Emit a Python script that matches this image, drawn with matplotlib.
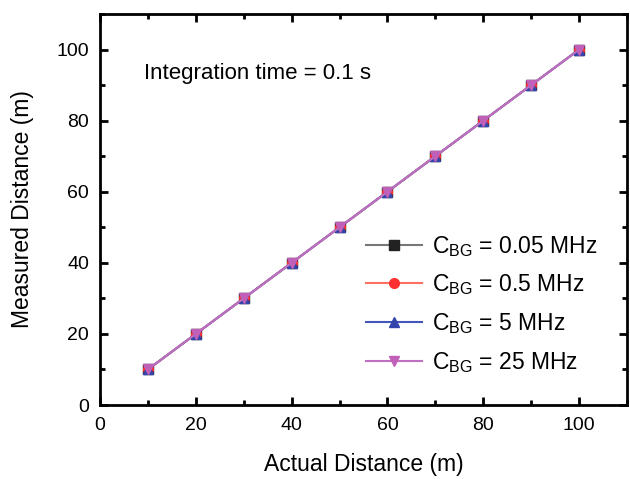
import matplotlib
matplotlib.use("Agg")
import matplotlib.pyplot as plt
from matplotlib.ticker import MultipleLocator

plt.rcParams['font.family'] = ['Liberation Sans', 'DejaVu Sans']
plt.rcParams['mathtext.fontset'] = 'custom'
plt.rcParams['mathtext.rm'] = 'Liberation Sans'

actual = [10, 20, 30, 40, 50, 60, 70, 80, 90, 100]
meas_005 = [10, 20, 30, 40, 50, 60, 70, 80, 90, 100]
meas_05 = [10, 20, 30, 40, 50, 60, 70, 80, 90, 100]
meas_5 = [10, 20, 30, 40, 50, 60, 70, 80, 90, 100]
meas_25 = [10, 20, 30, 40, 50, 60, 70, 80, 90, 100]
labels = [r'C$_\mathregular{BG}$ = 0.05 MHz', r'C$_\mathregular{BG}$ = 0.5 MHz',
          r'C$_\mathregular{BG}$ = 5 MHz', r'C$_\mathregular{BG}$ = 25 MHz']

fig = plt.figure(figsize=(6.3, 4.79), dpi=100)
ax = fig.add_axes([100/630, 1-405/479, 527/630, 391/479])

series = [meas_005, meas_05, meas_5, meas_25]
markers = ['s', 'o', '^', 'v']
colors = ['#222222', '#ff3030', '#3344aa', '#c060b8']
lcolors = ['#777777', '#ff7060', '#4455bb', '#c070c0']
for ys, m, c, lc, lab in zip(series, markers, colors, lcolors, labels):
    ax.plot(actual, ys, color=lc, lw=1.5, marker=m, markersize=7,
            markerfacecolor=c, markeredgecolor=c, label=lab)

ax.set_xlim(0, 110)
ax.set_ylim(0, 110)
ax.xaxis.set_major_locator(MultipleLocator(20))
ax.xaxis.set_minor_locator(MultipleLocator(10))
ax.yaxis.set_major_locator(MultipleLocator(20))
ax.yaxis.set_minor_locator(MultipleLocator(10))
ax.tick_params(which='both', direction='in', top=True, right=True, width=2, labelsize=14)
ax.tick_params(which='major', length=6)
ax.tick_params(axis='x', which='both', pad=8.5)
ax.tick_params(axis='y', which='both', pad=8.0)
ax.tick_params(which='minor', length=3.5)
for s in ax.spines.values():
    s.set_linewidth(2)

ax.set_xlabel('Actual Distance (m)', fontsize=16.5, labelpad=14)
ax.set_ylabel('Measured Distance (m)', fontsize=16.5, labelpad=16)
ax.text(0.0835, 0.849, 'Integration time = 0.1 s', transform=ax.transAxes, fontsize=16,
        ha='left', va='center')

leg = ax.legend(loc='lower right', bbox_to_anchor=(0.983, 0.025), frameon=False, fontsize=16.5,
                handlelength=2.45, handletextpad=0.45, labelspacing=0.6)

fig.savefig('out.png', dpi=100)
